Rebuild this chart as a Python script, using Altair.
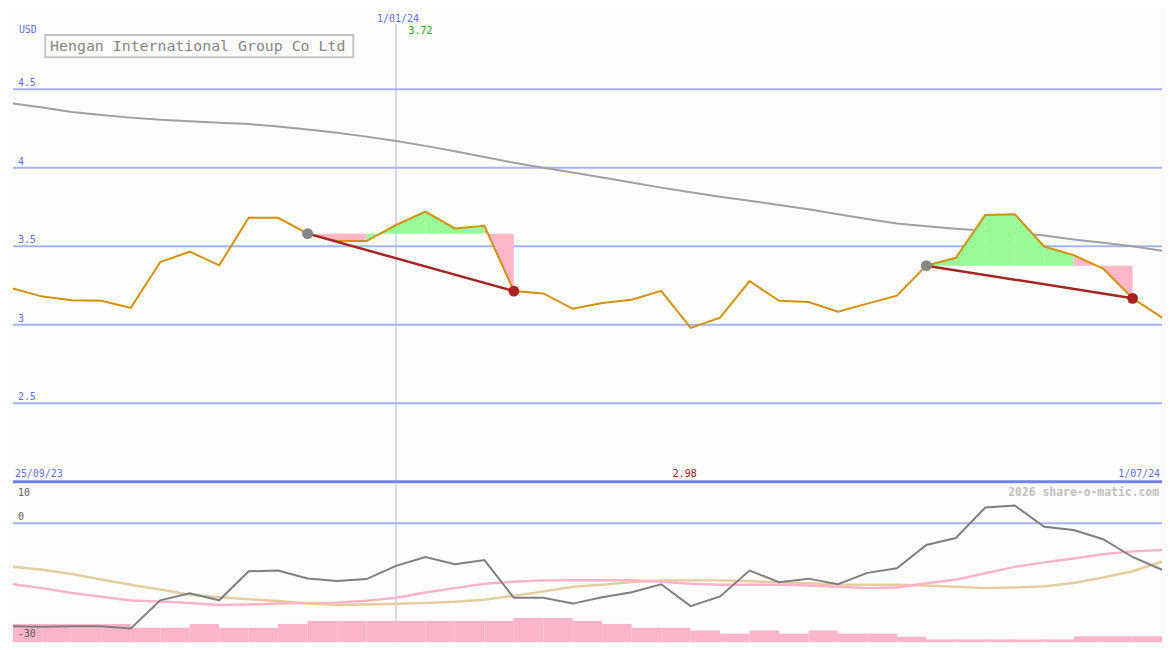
import altair as alt
import pandas as pd

# ---------------- data ----------------
dates = pd.date_range("2023-10-02", periods=40, freq="7D").strftime("%Y-%m-%d").tolist()

price = [3.230, 3.179, 3.156, 3.152, 3.107, 3.399, 3.465, 3.378, 3.681, 3.681,
         3.580, 3.533, 3.533, 3.635, 3.720, 3.613, 3.630, 3.214, 3.199, 3.101,
         3.138, 3.159, 3.216, 2.980, 3.045, 3.278, 3.152, 3.144, 3.082, 3.134,
         3.185, 3.376, 3.426, 3.699, 3.704, 3.498, 3.443, 3.358, 3.168, 3.045]

ma = [4.409, 4.383, 4.355, 4.336, 4.319, 4.306, 4.296, 4.287, 4.278, 4.262,
      4.243, 4.222, 4.198, 4.170, 4.139, 4.105, 4.068, 4.031, 4.000, 3.969,
      3.938, 3.906, 3.873, 3.843, 3.815, 3.790, 3.762, 3.735, 3.704, 3.673,
      3.645, 3.627, 3.611, 3.599, 3.586, 3.568, 3.543, 3.522, 3.500, 3.471]

osc = [-26.6, -26.75, -26.6, -26.6, -27.2, -19.9, -18.1, -19.9, -12.4, -12.2,
       -14.25, -14.9, -14.4, -11.0, -8.7, -10.6, -9.5, -19.25, -19.25, -20.75,
       -19.1, -17.8, -15.75, -21.4, -18.9, -12.2, -15.2, -14.3, -15.75, -12.8,
       -11.6, -5.6, -3.8, 4.1, 4.6, -0.9, -1.75, -4.1, -8.7, -12.0]

sig_pink = [-15.75, -16.75, -18.0, -19.0, -19.95, -20.2, -20.6, -21.1, -21.0, -20.75,
            -20.6, -20.5, -20.0, -19.25, -17.9, -16.75, -15.6, -15.1, -14.75, -14.7,
            -14.7, -14.7, -15.1, -15.6, -15.9, -15.9, -15.9, -16.1, -16.4, -16.75,
            -16.6, -15.5, -14.6, -12.9, -11.25, -10.1, -9.1, -8.0, -7.25, -6.9]

sig_tan = [-11.2, -12.0, -13.1, -14.5, -15.9, -17.1, -18.45, -19.1, -19.6, -20.1,
           -20.75, -21.1, -21.0, -20.8, -20.6, -20.3, -19.75, -18.75, -17.6, -16.4,
           -15.9, -15.15, -14.8, -14.75, -14.75, -15.0, -15.25, -15.5, -15.8, -15.9,
           -15.9, -16.1, -16.4, -16.75, -16.6, -16.3, -15.4, -14.0, -12.4, -9.9]

vol = [-26, -26, -26, -26, -27, -27, -26, -27, -27, -26,
       -25.2, -25.2, -25.2, -25.2, -25.2, -25.2, -25.2, -24.5, -24.5, -25.2,
       -26, -27, -27, -27.7, -28.5, -27.7, -28.5, -27.7, -28.5, -28.5,
       -29.3, -30, -30, -30, -30, -30, -29.2, -29.2, -29.2]

trades = [(10, 17), (31, 38)]          # (buy index, sell index)
price_ticks = [2.5, 3, 3.5, 4, 4.5]
price_tick_labels = ["2.5", "3", "3.5", "4", "4.5"]
lower_ticks = [10, 0, -30]
lower_tick_labels = ["10", "0", "-30"]
title_text = "Hengan International Group Co Ltd"
marker_date_idx = 13                   # 1/01/24

# ---------------- layout ----------------
W = 1159
H1 = 475
H2 = 159
SX = W / 1175
SY = H1 / 487
FONT = "DejaVu Sans Mono"
BG = "#fdfefb"
GRID = "#a4b4f4"
BLUE_TXT = "#5f6ff0"

UP_MIN, UP_MAX = 2.0, 5.0
LO_MIN, LO_MAX = -30.75, 10.0
N = len(price)

idx = list(range(N))
df = pd.DataFrame({"i": idx, "date": dates, "price": price, "ma": ma,
                   "osc": osc, "pink": sig_pink, "tan": sig_tan})

xs = alt.Scale(domain=[0, N - 1], nice=False, zero=False)
ys = alt.Scale(domain=[UP_MIN, UP_MAX], nice=False, zero=False)
ls = alt.Scale(domain=[LO_MIN, LO_MAX], nice=False, zero=False)
X = alt.X("i:Q", scale=xs, axis=None)
YU = lambda f: alt.Y(f, scale=ys, axis=None)
YL = lambda f: alt.Y(f, scale=ls, axis=None)

one = pd.DataFrame({"a": [0]})

# fills between price and entry level
fill_rows = []
for k, (b, s) in enumerate(trades):
    lvl = price[b]
    for j in range(b, s):
        col = "#98fb98" if price[j + 1] > lvl else "#ffb6c8"
        for t in (j, j + 1):
            fill_rows.append({"seg": f"{k}-{j}", "i": t, "p": price[t], "lvl": lvl, "c": col})
fill_df = pd.DataFrame(fill_rows)

trade_rows = []
for k, (b, s) in enumerate(trades):
    trade_rows.append({"t": k, "i": b, "p": price[b], "kind": "buy"})
    trade_rows.append({"t": k, "i": s, "p": price[s], "kind": "sell"})
trade_df = pd.DataFrame(trade_rows)

tick_df = pd.DataFrame({"v": price_ticks, "lab": price_tick_labels})
bar_df = pd.DataFrame({"i0": idx[:-1], "i1": idx[1:], "v": vol})

imax = price.index(max(price))
imin = price.index(min(price))


def txt(text, color, x, y, align="left", size=10, weight="normal", dx=0, dy=0):
    return alt.Chart(one).mark_text(text=text, font=FONT, fontSize=size, color=color,
                                    align=align, baseline="middle", fontWeight=weight,
                                    dx=dx, dy=dy).encode(x=x, y=y)


# ---------------- upper panel ----------------
grid = alt.Chart(tick_df).mark_rule(color=GRID, strokeWidth=2).encode(
    x=alt.value(0), x2=alt.value(W), y=YU("v:Q"))
grid_lab = alt.Chart(tick_df).mark_text(font=FONT, fontSize=10, color=BLUE_TXT,
                                        align="left", baseline="middle", dx=5, dy=-6).encode(
    x=alt.value(0), y=YU("v:Q"), text="lab:N")
vline = alt.Chart(pd.DataFrame({"i": [marker_date_idx], "top": [UP_MAX - 14 / (487 / 3)],
                                "bot": [UP_MIN]})).mark_rule(color=GRID, strokeWidth=1).encode(
    x=X, y=YU("top:Q"), y2="bot:Q")
baseline = alt.Chart(pd.DataFrame({"v": [UP_MIN]})).mark_rule(color="#7383ec", strokeWidth=3).encode(
    x=alt.value(0), x2=alt.value(W), y=YU("v:Q"))
ma_line = alt.Chart(df).mark_line(color="#a0a0a0", strokeWidth=2).encode(x=X, y=YU("ma:Q"))
fills = alt.Chart(fill_df).mark_area(opacity=1).encode(
    x=X, y=YU("p:Q"), y2="lvl:Q",
    detail="seg:N", color=alt.Color("c:N", scale=None))
price_line = alt.Chart(df).mark_line(color="#d4900a", strokeWidth=2).encode(x=X, y=YU("price:Q"))
trade_lines = alt.Chart(trade_df).mark_line(color="#a52424", strokeWidth=2.5).encode(
    x=X, y=YU("p:Q"), detail="t:N")
dots = alt.Chart(trade_df).mark_circle(size=120, opacity=1).encode(
    x=X, y=YU("p:Q"),
    color=alt.Color("kind:N", scale=alt.Scale(domain=["buy", "sell"],
                                              range=["#858585", "#a82222"]), legend=None))

pos = lambda i: alt.value(i * W / (N - 1))
usd = txt("USD", BLUE_TXT, alt.value(0), alt.value(20 * SY), dx=6)
box = alt.Chart(one).mark_rect(fill=BG, stroke="#c4c4c4", strokeWidth=2).encode(
    x=alt.value(33 * SX), x2=alt.value(348 * SX),
    y=alt.value(25 * SY), y2=alt.value(48 * SY))
title = txt(title_text, "#858585", alt.value(38 * SX), alt.value(37 * SY), size=15)
d_mid = txt("1/01/24", BLUE_TXT, pos(marker_date_idx), alt.value(9 * SY), align="center", dx=2)
t_max = txt(f"{max(price):.2f}", "#22a022", pos(imax), alt.value(21 * SY), align="center", dx=-5)
d_left = txt("25/09/23", BLUE_TXT, alt.value(0), alt.value(479 * SY), dx=2)
t_min = txt(f"{min(price):.2f}", "#a01a1a", pos(imin), alt.value(479 * SY), align="center", dx=-6)
d_right = txt("1/07/24", BLUE_TXT, alt.value(W), alt.value(479 * SY), align="right", dx=-2)

upper = alt.layer(grid, grid_lab, vline, ma_line, fills, price_line, trade_lines, dots,
                  usd, box, title, d_mid, t_max, d_left, t_min, d_right, baseline
                  ).properties(width=W, height=H1)

# ---------------- lower panel ----------------
zero_line = alt.Chart(pd.DataFrame({"v": [0]})).mark_rule(color=GRID, strokeWidth=2).encode(
    x=alt.value(0), x2=alt.value(W), y=YL("v:Q"))
vline2 = alt.Chart(pd.DataFrame({"i": [marker_date_idx]})).mark_rule(color=GRID, strokeWidth=1).encode(
    x=X, y=alt.value(0), y2=alt.value(H2))
bars = alt.Chart(bar_df.assign(b=LO_MIN)).mark_rect(color="#fbb4c8").encode(
    x=alt.X("i0:Q", scale=xs, axis=None), x2="i1:Q", y=YL("v:Q"), y2="b:Q")
tan_line = alt.Chart(df).mark_line(color="#e4cc9e", strokeWidth=2.5).encode(x=X, y=YL("tan:Q"))
pink_line = alt.Chart(df).mark_line(color="#ffb2c8", strokeWidth=2.5).encode(x=X, y=YL("pink:Q"))
osc_line = alt.Chart(df).mark_line(color="#7f7f7f", strokeWidth=2).encode(x=X, y=YL("osc:Q"))
lab_layers = []
for v, lab, ddy in zip(lower_ticks, lower_tick_labels, [8, -6, -5]):
    lab_layers.append(alt.Chart(pd.DataFrame({"v": [v], "lab": [lab]})).mark_text(
        font=FONT, fontSize=10, color="#606060", align="left", baseline="middle",
        dx=5, dy=ddy).encode(x=alt.value(0), y=YL("v:Q"), text="lab:N"))
watermark = txt("2026 share-o-matic.com", "#c0c0c0", alt.value(W), alt.value(9 * SY),
                align="right", size=11.5, weight="bold", dx=-3)

lower = alt.layer(zero_line, vline2, bars, tan_line, pink_line, osc_line, *lab_layers, watermark
                  ).properties(width=W, height=H2)

chart = alt.vconcat(upper, lower, spacing=0).configure(
    background=BG, padding=0).configure_view(stroke=None)

chart.save("out.html", embed_options={"renderer": "svg", "actions": False})
